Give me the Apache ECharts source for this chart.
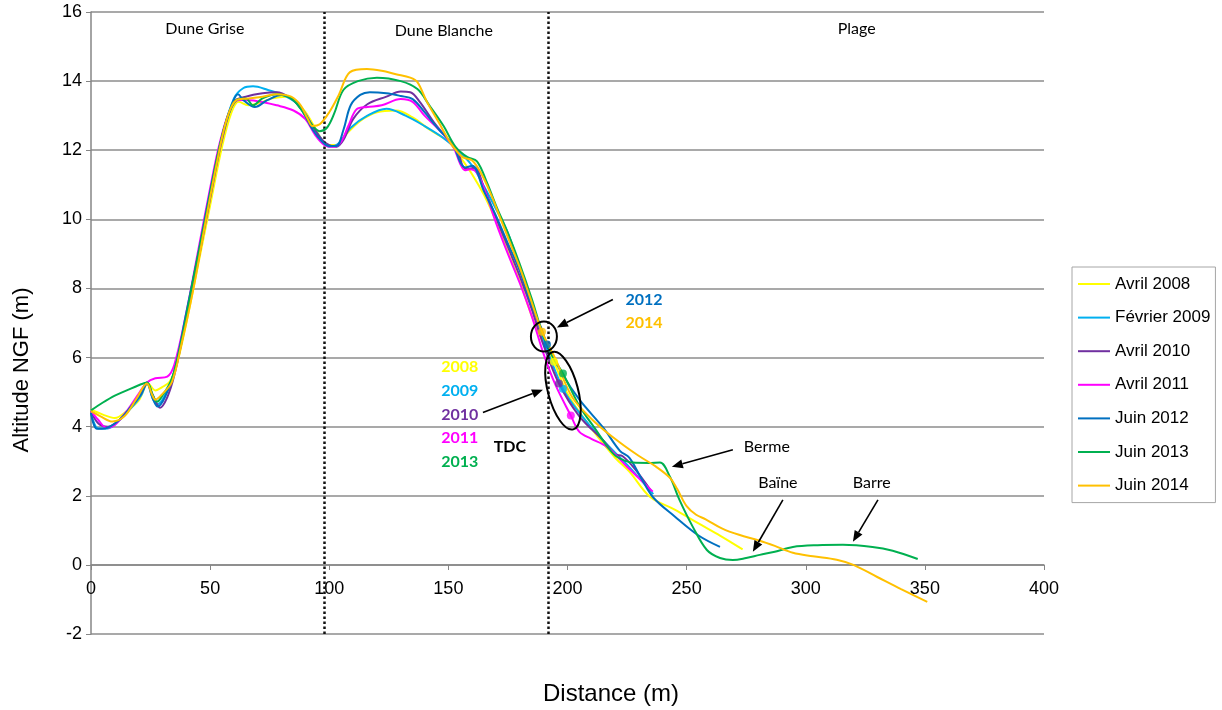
<!DOCTYPE html>
<html>
<head>
<meta charset="utf-8">
<script src="https://cdn.jsdelivr.net/npm/echarts@6/dist/echarts.min.js"></script>
<style>html,body{margin:0;padding:0;background:#fff}#c{width:1222px;height:710px}</style>
</head>
<body>
<div id="c"></div>
<script>
// ---- data (distance m, altitude m) ----
const seriesNames = ['Avril 2008','Février 2009','Avril 2010','Avril 2011','Juin 2012','Juin 2013','Juin 2014'];
const avril2008 = [[0,4.5],[5,4.35],[10,4.25],[15,4.45],[20,4.75],[24,5.25],[27,5.05],[30,5.15],[33,5.3],[36,5.8],[40,7.0],[45,8.7],[50,10.4],[55,12.1],[59,13.1],[62,13.4],[66,13.3],[70,13.35],[76,13.5],[82,13.55],[86,13.4],[90,13.1],[94,12.65],[97,12.3],[100,12.15],[103,12.15],[107,12.45],[113,12.85],[120,13.1],[128,13.15],[135,12.95],[142,12.6],[150,12.25],[155,11.8],[160,11.3],[165,10.7],[170,9.95],[175,9.05],[180,8.2],[185,7.2],[190,6.4],[194.3,5.88],[200,4.95],[210,3.95],[220,3.1],[226,2.7],[234.6,1.97],[245,1.6],[255,1.2],[264,0.85],[273.5,0.45]];
const fevrier2009 = [[0,4.4],[3,3.95],[7,3.95],[12,4.2],[17,4.55],[21,4.9],[23.5,5.25],[26,4.8],[28,4.65],[31,4.9],[35,5.6],[40,7.2],[45,8.9],[50,10.7],[55,12.4],[60,13.5],[64,13.8],[68,13.85],[74,13.75],[82,13.55],[88,13.25],[93,12.7],[97,12.3],[100,12.1],[104,12.2],[109,12.65],[116,13.0],[124,13.2],[132,13.0],[140,12.7],[148,12.35],[154,12.0],[160,11.55],[165,10.95],[170,10.3],[175,9.6],[180,8.6],[185,7.6],[190,6.5],[198.1,5.1],[205,4.4],[215,3.6],[225,2.9],[236,2.05]];
const avril2010 = [[0,4.45],[3,4.1],[7,4.0],[12,4.2],[17,4.6],[21,4.95],[23.5,5.25],[26,4.9],[29,4.55],[32,4.85],[35,5.5],[40,7.1],[45,8.8],[50,10.6],[55,12.3],[60,13.4],[65,13.55],[72,13.65],[78,13.68],[84,13.5],[88,13.25],[93,12.7],[97,12.3],[100,12.15],[103,12.1],[106,12.3],[110,12.9],[116,13.33],[124,13.55],[130,13.7],[134,13.68],[138,13.4],[144,12.8],[150,12.3],[154,11.95],[156,11.55],[158,11.45],[161,11.5],[165,10.9],[170,10.05],[175,9.2],[180,8.35],[185,7.4],[190,6.35],[196.4,5.25],[205,4.3],[215,3.6],[220,3.2],[223,3.15],[228,2.8],[235,2.15]];
const avril2011 = [[0,4.45],[3,4.2],[6.5,3.97],[10,4.05],[15,4.45],[20,4.95],[23.5,5.28],[27,5.4],[32,5.45],[35,5.8],[40,7.3],[45,9.1],[50,10.9],[54,12.2],[58,13.1],[62,13.45],[70,13.42],[78,13.3],[85,13.15],[90,12.9],[94,12.45],[98,12.15],[102,12.1],[105,12.25],[108,12.7],[111.6,13.19],[116,13.25],[122,13.3],[130,13.48],[135,13.4],[140,13.0],[146,12.6],[152,12.1],[155,11.6],[157,11.42],[159,11.45],[162,11.35],[166,10.7],[170,9.9],[175,9.0],[180,8.15],[185,7.2],[190,6.1],[195,5.2],[201.4,4.32],[205,3.85],[210,3.65],[216.5,3.42],[225,2.84],[235.8,2.12]];
const juin2012 = [[0,4.4],[2.5,3.94],[6,3.95],[12,4.2],[17,4.6],[21,4.95],[23.5,5.28],[26,4.8],[28,4.58],[31,4.85],[35,5.6],[40,7.3],[45,9.0],[50,10.8],[55,12.4],[59,13.3],[61.7,13.62],[64,13.45],[68.8,13.25],[74,13.45],[80,13.6],[85,13.45],[89,13.1],[93,12.6],[97,12.25],[100,12.12],[103,12.12],[106,12.6],[109,13.3],[113,13.6],[117,13.68],[124,13.65],[130,13.57],[135,13.48],[140,13.1],[146,12.6],[152,12.15],[155,11.65],[157,11.5],[160,11.55],[165,10.8],[170,10.1],[175,9.3],[180,8.5],[185,7.5],[189,6.85],[191.4,6.38],[198,5.5],[205,4.78],[215,3.97],[222,3.3],[226,3.1],[231,2.5],[236,1.95],[245,1.4],[255,0.85],[264,0.52]];
const juin2013 = [[0,4.47],[5,4.7],[10,4.9],[15,5.05],[20,5.2],[23.5,5.28],[26,4.9],[27.7,4.72],[30,4.9],[34,5.4],[38,6.5],[43,8.3],[48,10.0],[53,11.8],[57,12.9],[61,13.45],[65,13.5],[68,13.3],[72,13.5],[78,13.62],[84,13.5],[88,13.2],[92,12.8],[96,12.55],[99,12.65],[102,13.05],[106,13.75],[112,14.0],[120,14.1],[130,14.0],[137,13.77],[142,13.3],[148,12.7],[153,12.1],[158,11.8],[162,11.68],[166,11.1],[170,10.4],[175,9.6],[180,8.7],[185,7.7],[190,6.6],[194,6.0],[198.1,5.54],[205,4.6],[212,3.9],[217,3.4],[220.7,3.13],[227.5,2.96],[234,2.95],[238.8,2.96],[243,2.55],[247,1.88],[252.6,1.1],[258.5,0.43],[264,0.2],[269.4,0.14],[275,0.2],[280.7,0.29],[287,0.38],[294.6,0.52],[305,0.57],[315.6,0.58],[328,0.52],[336.5,0.41],[347,0.17]];
const juin2014 = [[0,4.45],[4,4.3],[9,4.15],[14,4.3],[19,4.8],[23.5,5.25],[25.5,4.95],[27,4.78],[30,4.95],[34,5.3],[38,6.4],[43,8.0],[48,9.9],[53,11.7],[57,12.9],[61,13.45],[66,13.5],[72,13.55],[78,13.62],[84,13.55],[88,13.3],[91,12.9],[93,12.7],[96,12.75],[100,13.1],[104,13.6],[108.7,14.26],[115.8,14.35],[122,14.3],[128,14.2],[134,14.1],[137,13.97],[141,13.4],[146,12.8],[151,12.2],[156,11.8],[160,11.7],[164,11.3],[168,10.7],[172,10.0],[176,9.3],[180,8.6],[184,7.8],[189.3,6.75],[195,5.95],[202,4.85],[212,4.1],[222,3.54],[230,3.15],[237,2.85],[243,2.52],[246,2.2],[250,1.7],[254,1.45],[258,1.32],[265,1.05],[272,0.87],[280.7,0.7],[287,0.55],[294.6,0.35],[303,0.25],[313,0.15],[320,0],[330,-0.35],[340,-0.7],[351,-1.07]];
// TDC points (distance, altitude) per year
const tdcYears = ['2008','2009','2010','2011','2012','2013','2014'];
const tdcPoints = [[194.3,5.88],[198.1,5.1],[196.4,5.25],[201.4,4.32],[191.4,6.38],[198.1,5.54],[189.3,6.75]];
// zone limits
const zoneLimits = [98, 192];
const zoneNames = ['Dune Grise','Dune Blanche','Plage'];

const colors = ['#ffff00','#00b0f0','#7030a0','#ff00ff','#0070c0','#00b050','#ffc000'];
const allData = [avril2008,fevrier2009,avril2010,avril2011,juin2012,juin2013,juin2014];

const chart = echarts.init(document.getElementById('c'), null, {renderer:'canvas'});
const series = allData.map((d,i)=>({
  name: seriesNames[i], type:'line', data:d, smooth:0.35, showSymbol:false,
  lineStyle:{width:2, color:colors[i]}, itemStyle:{color:colors[i]}, z: 2 + i,
  markLine: i===0 ? {symbol:'none', silent:true, label:{show:false},
    lineStyle:{type:[2.5,2.5], color:'#111', width:2.5},
    data: zoneLimits.map(v=>({xAxis:v}))} : undefined
}));
series.push({
  name:'TDC', type:'scatter', symbolSize:8, z:10,
  data: tdcPoints.map((p,i)=>({value:p, itemStyle:{color:colors[i]}}))
});

chart.setOption({
  animation:false,
  grid:{left:91, right:178, top:12, bottom:76},
  xAxis:{type:'value', min:0, max:400, interval:50, position:'bottom', offset:-69,
    axisLine:{onZero:false, lineStyle:{color:'#868686', width:1.5}},
    axisTick:{show:true, length:5, lineStyle:{color:'#868686'}},
    axisLabel:{color:'#000', fontSize:18, fontFamily:'Liberation Sans', margin:15},
    splitLine:{show:false}},
  yAxis:{type:'value', min:-2, max:16, interval:2,
    axisLine:{show:true, lineStyle:{color:'#868686', width:1.5}},
    axisTick:{show:true, length:5, lineStyle:{color:'#868686'}},
    axisLabel:{color:'#000', fontSize:18, fontFamily:'Liberation Sans', margin:9},
    splitLine:{show:true, lineStyle:{color:'#8c8c8c', width:1.5}}},
  legend:{orient:'vertical', left:1072, top:267, data:seriesNames, icon:'rect',
    itemWidth:32, itemHeight:2, itemGap:15.6,
    textStyle:{fontSize:17, fontFamily:'Liberation Sans', color:'#000', lineHeight:18},
    borderColor:'#a6a6a6', borderWidth:1, padding:[8,5,8,6]},
  series: series
});

// ---- annotations (positioned in data coordinates) ----
const P = (x,y)=>chart.convertToPixel({gridIndex:0},[x,y]);
const g = [];
function txt(x,y,s,opt){ const p=P(x,y); g.push({type:'text', x:p[0], y:p[1], z:20,
  style:Object.assign({text:s, align:'center', verticalAlign:'middle', fill:'#000', font:'16px Lato'},opt||{})}); }
function arrow(x1,y1,x2,y2){ const a=P(x1,y1), b=P(x2,y2);
  const dx=b[0]-a[0], dy=b[1]-a[1], L=Math.hypot(dx,dy), ux=dx/L, uy=dy/L;
  const hl=11, hw=4.5; const bx=b[0]-ux*hl, by=b[1]-uy*hl;
  g.push({type:'line', z:20, shape:{x1:a[0],y1:a[1],x2:bx,y2:by}, style:{stroke:'#000', lineWidth:1.6}});
  g.push({type:'polygon', z:20, shape:{points:[[b[0],b[1]],[bx-uy*hw,by+ux*hw],[bx+uy*hw,by-ux*hw]]}, style:{fill:'#000'}});
}
function ellipse(x,y,rx,ry,rot){ const p=P(x,y);
  g.push({type:'ellipse', z:20, x:p[0], y:p[1], rotation:rot||0, shape:{cx:0,cy:0,rx:rx,ry:ry}, style:{fill:'none', stroke:'#000', lineWidth:2}}); }

txt(47.8,15.51,zoneNames[0]); txt(148.1,15.45,zoneNames[1]); txt(321.4,15.51,zoneNames[2]);
ellipse(190.1,6.61,13,15,0);
ellipse(198.1,5.04,15,40,0.26);
arrow(219.05,7.68,195.55,6.87);
arrow(164.5,4.41,189.7,5.07);
arrow(269.4,3.33,243.8,2.84);
arrow(290.4,1.88,277.8,0.38);
arrow(330.3,1.88,319.8,0.67);
const bold = c=>({fill:c, font:'bold 16px Lato'});
txt(232.1,7.68,tdcYears[4],bold(colors[4]));
txt(232.1,7.01,tdcYears[6],bold(colors[6]));
txt(154.8,5.74,tdcYears[0],bold(colors[0]));
txt(154.8,5.04,tdcYears[1],bold(colors[1]));
txt(154.8,4.35,tdcYears[2],bold(colors[2]));
txt(154.8,3.68,tdcYears[3],bold(colors[3]));
txt(154.8,2.99,tdcYears[5],bold(colors[5]));
txt(175.8,3.42,'TDC',bold('#000'));
txt(283.7,3.42,'Berme',{font:'16px Lato'});
txt(288.3,2.38,'Baïne',{font:'16px Lato'});
txt(327.7,2.38,'Barre',{font:'16px Lato'});
// axis titles
g.push({type:'text', x:611, y:694, z:20, style:{text:'Distance (m)', align:'center', verticalAlign:'middle', fill:'#000', font:'24px "Liberation Sans"'}});
g.push({type:'text', x:22, y:370, z:20, rotation:Math.PI/2, style:{text:'Altitude NGF (m)', align:'center', verticalAlign:'middle', fill:'#000', font:'22px "Liberation Sans"'}});
chart.setOption({graphic:{elements:g}});
</script>
</body>
</html>
